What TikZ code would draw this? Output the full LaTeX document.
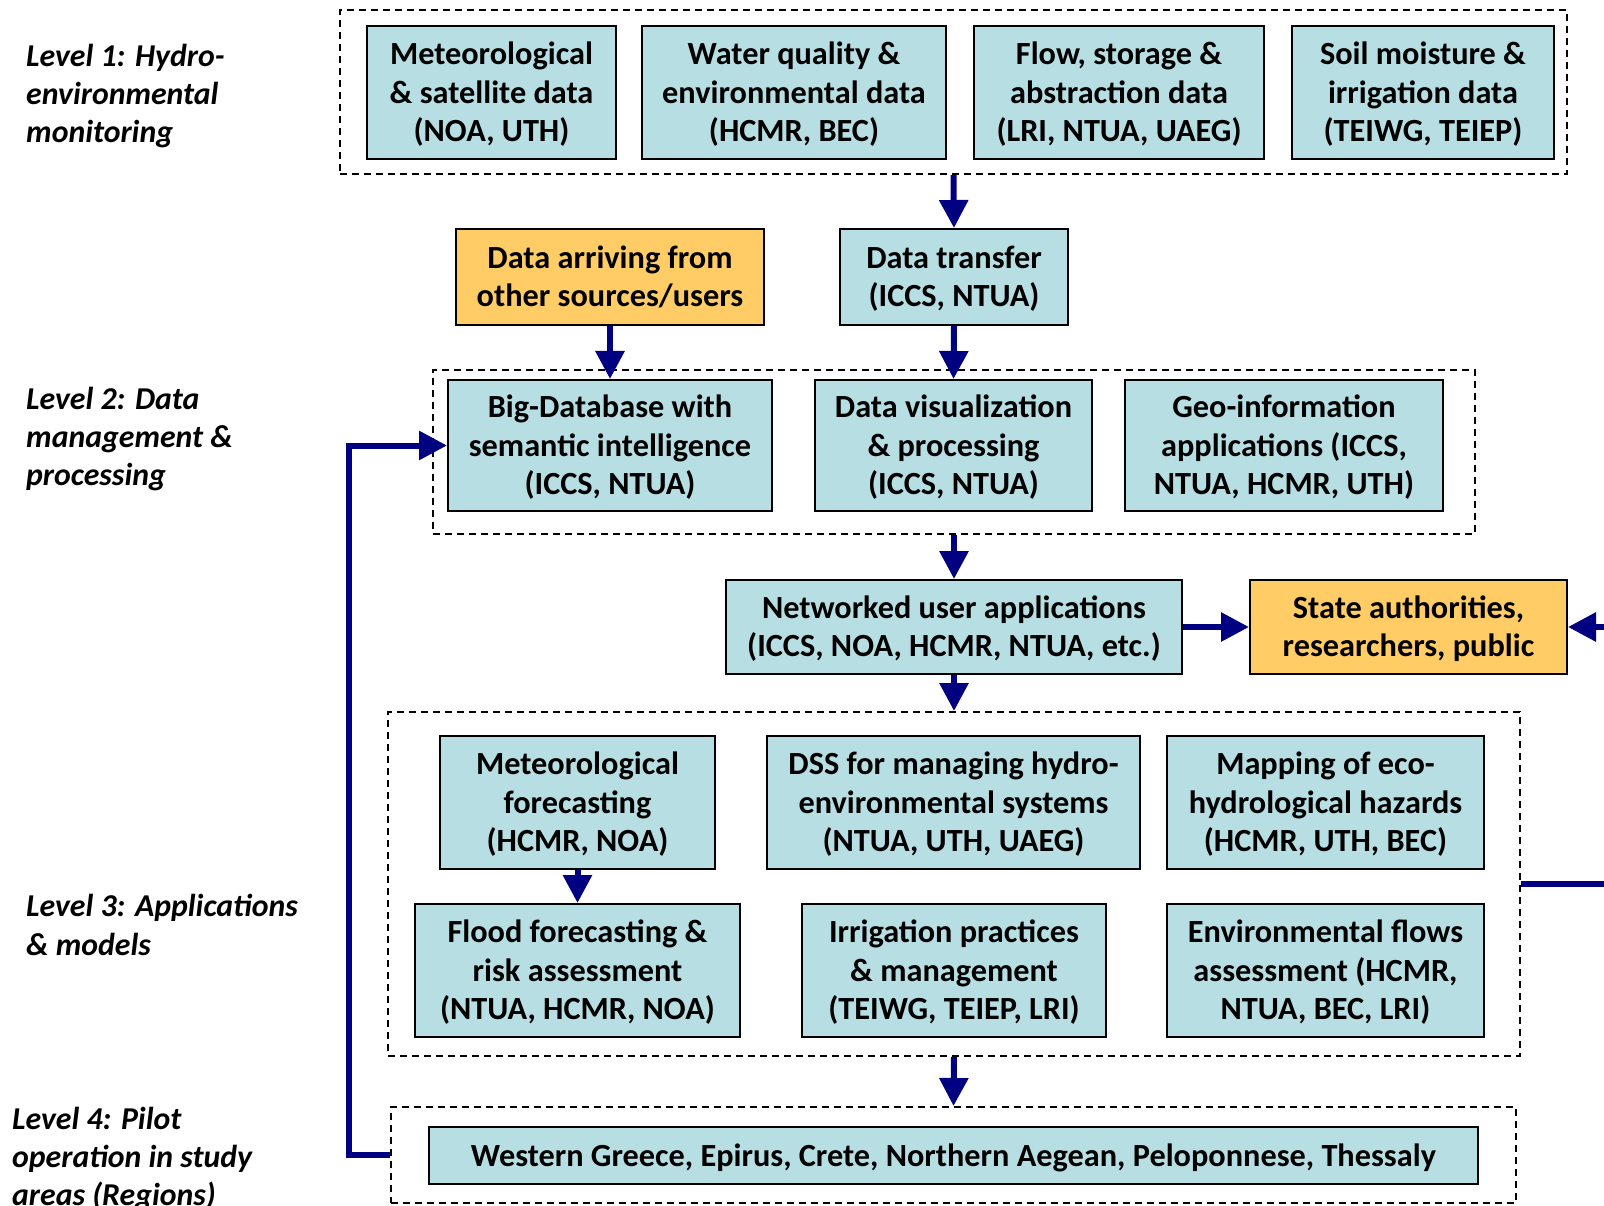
\documentclass[tikz,border=0pt]{standalone}
\usepackage{fontspec}
\setmainfont{Carlito}
\usetikzlibrary{arrows.meta}
\definecolor{boxblue}{RGB}{183,222,226}
\definecolor{boxorange}{RGB}{255,204,102}
\definecolor{arrowblue}{RGB}{0,0,128}
\tikzset{
  blk/.style={draw, line width=2pt, fill=boxblue, align=center, inner sep=0pt, text depth=1.5pt,
    font=\fontsize{32.3}{38.4}\selectfont\bfseries},
  src/.style={blk, fill=boxorange},
  grp/.style={draw, line width=2pt, dash pattern=on 7pt off 5pt, inner sep=0pt},
  flow/.style={draw=arrowblue, line width=6pt, -{Triangle[length=28pt,width=28pt]}},
  lvl/.style={anchor=west, align=left, inner sep=0pt, text depth=1.5pt,
    font=\fontsize{31.8}{38.4}\selectfont\bfseries\itshape}
}
\begin{document}
\begin{tikzpicture}[x=1pt,y=-1pt]
            \useasboundingbox (0,0) rectangle (1604,1206);
            % level labels
            \node[lvl] (lvla) at (26,94) {Level 1: Hydro-\\environmental\\monitoring};
            \node[lvl] (lvlb) at (26,437) {Level 2: Data\\management \&\\processing};
            \node[lvl] (lvlc) at (26,925.5) {Level 3: Applications\\\& models};
            \node[lvl] (lvld) at (12,1157) {Level 4: Pilot\\operation in study\\areas (Regions)};
            % dashed groups
            \node[grp, minimum width=1227, minimum height=164] (grpa) at (953.5,92) {};
            \node[grp, minimum width=1042, minimum height=164] (grpb) at (954,452) {};
            \node[grp, minimum width=1132, minimum height=344] (grpc) at (954,884) {};
            \node[grp, minimum width=1125, minimum height=96] (grpd) at (953.5,1155) {};
            % level 1
            \node[blk, minimum width=249, minimum height=133] (metdata) at (491.5,92.5) {Meteorological\\\& satellite data\\(NOA, UTH)};
            \node[blk, minimum width=304, minimum height=133] (water) at (794,92.5) {Water quality \&\\environmental data\\(HCMR, BEC)};
            \node[blk, minimum width=290, minimum height=133] (flowdata) at (1119,92.5) {Flow, storage \&\\abstraction data\\(LRI, NTUA, UAEG)};
            \node[blk, minimum width=262, minimum height=133] (soil) at (1423,92.5) {Soil moisture \&\\irrigation data\\(TEIWG, TEIEP)};
            % level 2
            \node[src, minimum width=308, minimum height=96] (arriving) at (610,277) {Data arriving from\\other sources/users};
            \node[blk, minimum width=228, minimum height=96] (transfer) at (954,277) {Data transfer\\(ICCS, NTUA)};
            \node[blk, minimum width=324, minimum height=131] (bigdb) at (610,445.5) {Big-Database with\\semantic intelligence\\(ICCS, NTUA)};
            \node[blk, minimum width=277, minimum height=131] (visual) at (953.5,445.5) {Data visualization\\\& processing\\(ICCS, NTUA)};
            \node[blk, minimum width=318, minimum height=131] (geoinfo) at (1284,445.5) {Geo-information\\applications (ICCS,\\NTUA, HCMR, UTH)};
            \node[blk, minimum width=456, minimum height=94] (netapp) at (954,627) {Networked user applications\\(ICCS, NOA, HCMR, NTUA, etc.)};
            \node[src, minimum width=317, minimum height=94] (users) at (1408.5,627) {State authorities,\\researchers, public};
            % level 3
            \node[blk, minimum width=275, minimum height=133] (metfc) at (577.5,802.5) {Meteorological\\forecasting\\(HCMR, NOA)};
            \node[blk, minimum width=373, minimum height=133] (dss) at (953.5,802.5) {DSS for managing hydro-\\environmental systems\\(NTUA, UTH, UAEG)};
            \node[blk, minimum width=317, minimum height=133] (mapping) at (1325.5,802.5) {Mapping of eco-\\hydrological hazards\\(HCMR, UTH, BEC)};
            \node[blk, minimum width=325, minimum height=133] (flood) at (577.5,970.5) {Flood forecasting \&\\risk assessment\\(NTUA, HCMR, NOA)};
            \node[blk, minimum width=304, minimum height=133] (irrig) at (954,970.5) {Irrigation practices\\\& management\\(TEIWG, TEIEP, LRI)};
            \node[blk, minimum width=317, minimum height=133] (envflow) at (1325.5,970.5) {Environmental flows\\assessment (HCMR,\\NTUA, BEC, LRI)};
            % level 4
            \node[blk, minimum width=1049, minimum height=57] (regions) at (953.5,1155.5) {Western Greece, Epirus, Crete, Northern Aegean, Peloponnese, Thessaly};
            % connectors
            \coordinate (edgein) at (1604,627);
            \coordinate (edgeout) at (1604,882);
            \draw[flow] (grpa.south) -- (transfer.north);
            \draw[flow] (transfer.south) -- (visual.north);
            \draw[flow] (arriving.south) -- (bigdb.north);
            \draw[flow] (grpb.south) -- (netapp.north);
            \draw[flow] (netapp.south) -- (grpc.north);
            \draw[flow] (netapp.east) -- (users.west);
            \draw[flow] (edgein) -- (users.east);
            \draw[flow] (metfc.south) -- (flood.north);
            \draw[flow] (grpc.south) -- (grpd.north);
            \draw[flow] (grpd.west) -- ++(-41,0) |- (bigdb.west);
            \draw[draw=arrowblue, line width=6pt] (grpc.east) -- (grpc.east -| edgeout);
        \end{tikzpicture}
\end{document}
